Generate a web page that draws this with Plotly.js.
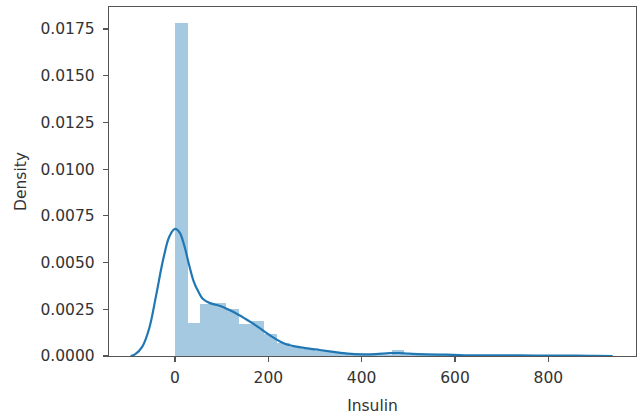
<!DOCTYPE html>
<html>
<head>
<meta charset="utf-8">
<script src="https://cdn.plot.ly/plotly-3.0.1.min.js"></script>
<style>html,body{margin:0;padding:0;background:#fff;}#chart{width:644px;height:416px;}</style>
</head>
<body>
<div id="chart"></div>
<script>
// Histogram (density) of Insulin: 31 equal bins from 0 to 846
const binMin = 0;
const binMax = 846;
const binDensity = [
  0.01784, 0.00174, 0.00276, 0.00283, 0.00250, 0.00170, 0.00187, 0.00120,
  0.00070, 0.00048, 0.00038, 0.00029, 0.00020, 0.00012, 0.00010, 0.00008,
  0.00008, 0.00030, 0.00008, 0.00010, 0.00005, 0.00005, 0.00005, 0.00000,
  0.00005, 0.00000, 0.00000, 0.00005, 0.00000, 0.00000, 0.00005
];
// KDE curve points
const kdeX = [-95, -85, -70, -55, -40, -25, -12, 0, 10, 20, 30, 40, 50, 60, 75, 90,
  105, 120, 135, 150, 165, 180, 195, 210, 225, 240, 260, 280, 310, 340, 370, 400,
  430, 460, 480, 500, 540, 580, 620, 680, 740, 800, 860, 900, 938];
const kdeY = [0.00000, 0.00010, 0.00050, 0.00150, 0.00330, 0.00520, 0.00640, 0.00680,
  0.00660, 0.00590, 0.00490, 0.00400, 0.00345, 0.00305, 0.00283, 0.00273,
  0.00260, 0.00242, 0.00222, 0.00200, 0.00177, 0.00152, 0.00125, 0.00100,
  0.00078, 0.00062, 0.00050, 0.00042, 0.00032, 0.00022, 0.00013, 0.00009,
  0.00010, 0.00015, 0.00016, 0.00013, 0.00009, 0.00007, 0.00004, 0.00003,
  0.00003, 0.00002, 0.00002, 0.00001, 0.00000];
const xTicks = [0, 200, 400, 600, 800];
const yTicks = [0, 0.0025, 0.005, 0.0075, 0.01, 0.0125, 0.015, 0.0175];

const nBins = binDensity.length;
const bw = (binMax - binMin) / nBins;
const binCenters = binDensity.map((_, i) => binMin + bw * (i + 0.5));

const font = {family: 'DejaVu Sans, sans-serif', size: 15.5, color: '#333'};
const data = [
  {type: 'bar', x: binCenters, y: binDensity, width: bw,
   marker: {color: 'rgba(31,119,180,0.4)', line: {width: 0}}, hoverinfo: 'skip'},
  {type: 'scatter', mode: 'lines', x: kdeX, y: kdeY,
   line: {color: '#1f77b4', width: 2.2, shape: 'spline', smoothing: 1}}
];
const axisCommon = {showline: true, mirror: true, linecolor: '#555', linewidth: 1.2,
  ticks: 'outside', ticklen: 5, tickwidth: 1.2, tickcolor: '#555',
  showgrid: false, zeroline: false, tickfont: font};
const layout = {
  width: 644, height: 416,
  margin: {l: 109, r: 8, t: 7, b: 60},
  paper_bgcolor: '#fff', plot_bgcolor: '#fff',
  showlegend: false, bargap: 0,
  font: font,
  xaxis: Object.assign({}, axisCommon, {range: [-141.4, 987.8], tickvals: xTicks,
    ticklabelstandoff: 2,
    title: {text: 'Insulin', font: font, standoff: 14}}),
  yaxis: Object.assign({}, axisCommon, {range: [0, 0.01868], tickvals: yTicks,
    tickformat: '.4f', ticklabelstandoff: 5,
    title: {text: 'Density', font: font, standoff: 10}})
};
Plotly.newPlot('chart', data, layout, {displayModeBar: false, staticPlot: true});
</script>
</body>
</html>
